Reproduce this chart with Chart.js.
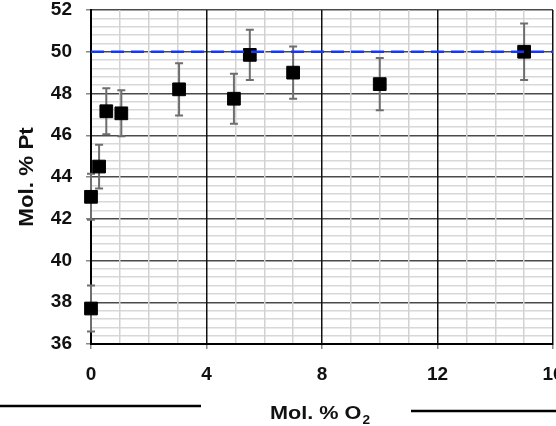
<!DOCTYPE html>
<html>
<head>
<meta charset="utf-8">
<script src="https://cdn.jsdelivr.net/npm/chart.js@4/dist/chart.umd.min.js"></script>
<style>
  html, body { margin: 0; padding: 0; background: #fff; }
  #wrap { width: 556px; height: 426px; position: relative; }
</style>
</head>
<body>
<div id="wrap"><canvas id="chart"></canvas></div>
<script>
// data
var o2Values = [0, 0, 0.28, 0.53, 1.05, 3.05, 4.95, 5.5, 7.0, 10.0, 15.0];
var ptValues = [37.7, 43.05, 44.5, 47.15, 47.05, 48.2, 47.75, 49.85, 49.0, 48.45, 50.0];
var ptErrors = [1.1, 1.1, 1.05, 1.1, 1.1, 1.25, 1.2, 1.2, 1.25, 1.25, 1.35];
var referenceLine = [50, 50];
var referenceX = [0, 16];
var xTickLabels = [0, 4, 8, 12, 16];
var yTickLabels = [36, 38, 40, 42, 44, 46, 48, 50, 52];

var FONT = "'Liberation Sans', Arial, sans-serif";

function near(v, list) {
    return list.some(function (t) { return Math.abs(v - t) < 1e-6; });
}

// grey error bars under the markers
var errorBars = {
    id: 'errorBars',
    beforeDatasetsDraw(chart) {
        var ctx = chart.ctx;
        var xs = chart.scales.x, ys = chart.scales.y;
        ctx.save();
        ctx.strokeStyle = '#6e6e6e';
        ctx.lineWidth = 2;
        o2Values.forEach(function (x, i) {
            var px = xs.getPixelForValue(x);
            var top = ys.getPixelForValue(ptValues[i] + ptErrors[i]);
            var bot = ys.getPixelForValue(ptValues[i] - ptErrors[i]);
            ctx.beginPath();
            ctx.moveTo(px, top); ctx.lineTo(px, bot);
            ctx.moveTo(px - 4, top); ctx.lineTo(px + 4, top);
            ctx.moveTo(px - 4, bot); ctx.lineTo(px + 4, bot);
            ctx.stroke();
        });
        ctx.restore();
    }
};

// axis titles and the two black rules at the bottom
var decorations = {
    id: 'decorations',
    afterDraw(chart) {
        var ctx = chart.ctx;
        ctx.save();
        ctx.fillStyle = '#111';
        ctx.translate(33, 177);
        ctx.rotate(-Math.PI / 2);
        ctx.scale(1.12, 1);
        ctx.font = 'bold 20px ' + FONT;
        ctx.textAlign = 'center';
        ctx.textBaseline = 'alphabetic';
        ctx.fillText('Mol. % Pt', 0, 0);
        ctx.restore();

        ctx.save();
        ctx.fillStyle = '#111';
        ctx.translate(270, 419);
        ctx.scale(1.14, 1);
        ctx.font = 'bold 19px ' + FONT;
        ctx.textAlign = 'left';
        ctx.fillText('Mol. % O', 0, 0);
        var w = ctx.measureText('Mol. % O').width;
        ctx.font = 'bold 12px ' + FONT;
        ctx.fillText('2', w + 1, 5);
        ctx.restore();

        ctx.save();
        ctx.strokeStyle = '#000';
        ctx.lineWidth = 2.5;
        ctx.beginPath();
        ctx.moveTo(0, 406); ctx.lineTo(201, 406);
        ctx.moveTo(411, 411); ctx.lineTo(556, 411);
        ctx.stroke();
        ctx.restore();
    }
};

var points = o2Values.map(function (x, i) { return { x: x, y: ptValues[i] }; });
var refPoints = referenceX.map(function (x, i) { return { x: x, y: referenceLine[i] }; });

new Chart(document.getElementById('chart'), {
    type: 'scatter',
    data: {
        datasets: [{
            type: 'line',
            data: refPoints,
            borderColor: '#1238ff',
            borderWidth: 2.5,
            borderDash: [13, 7],
            pointRadius: 0,
            fill: false,
            order: 0
        }, {
            data: points,
            pointStyle: 'rect',
            pointRadius: 9,
            backgroundColor: '#000',
            borderColor: '#000',
            borderWidth: 1,
            clip: false,
            order: 1
        }]
    },
    options: {
        responsive: true,
        maintainAspectRatio: false,
        animation: false,
        layout: { autoPadding: false, padding: { top: 10, right: 3, left: 0, bottom: 0 } },
        plugins: {
            legend: { display: false },
            tooltip: { enabled: false }
        },
        scales: {
            x: {
                type: 'linear',
                min: 0,
                max: 16,
                afterFit(scale) {
                    scale.height = 82;
                    scale.paddingLeft = 0;
                    scale.paddingRight = 0;
                },
                border: { color: '#000', width: 2 },
                grid: {
                    z: -1,
                    color: function (c) { return c.tick.value % 4 === 0 ? '#111' : '#d2d2d2'; },
                    lineWidth: 1.5,
                    tickLength: 5,
                    tickColor: function (c) { return c.tick.value % 4 === 0 ? '#888' : 'rgba(0,0,0,0)'; }
                },
                ticks: {
                    stepSize: 1,
                    autoSkip: false,
                    maxRotation: 0,
                    padding: 14,
                    color: '#111',
                    font: { family: FONT, size: 19, weight: 'bold' },
                    callback: function (v) { return near(v, xTickLabels) ? String(v) : ''; }
                }
            },
            y: {
                type: 'linear',
                min: 36,
                max: 52,
                afterFit(scale) {
                    scale.width = 91;
                    scale.paddingTop = 0;
                    scale.paddingBottom = 0;
                },
                border: { color: '#000', width: 2 },
                grid: {
                    z: -2,
                    color: function (c) { return near(c.tick.value, yTickLabels) ? '#4a4a4a' : '#d8d8d8'; },
                    lineWidth: 1.5,
                    tickLength: 5,
                    tickColor: function (c) { return near(c.tick.value, yTickLabels) ? '#888' : 'rgba(0,0,0,0)'; }
                },
                ticks: {
                    stepSize: 0.4,
                    autoSkip: false,
                    padding: 14,
                    color: '#111',
                    font: { family: FONT, size: 19, weight: 'bold' },
                    callback: function (v) { return near(v, yTickLabels) ? String(Math.round(v)) : ''; }
                }
            }
        }
    },
    plugins: [errorBars, decorations]
});
</script>
</body>
</html>
